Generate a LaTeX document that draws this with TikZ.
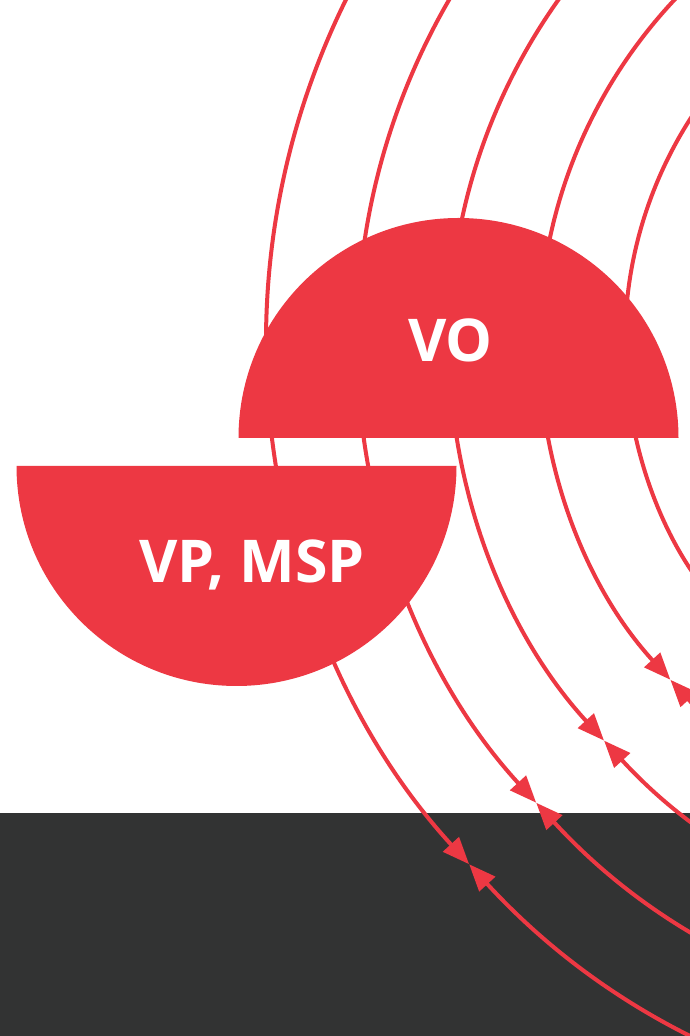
\documentclass[tikz,border=0pt]{standalone}
\usepackage{fontspec}
\setmainfont{Open Sans}
\usetikzlibrary{arrows.meta,calc}
\definecolor{vred}{RGB}{237,56,67}
\definecolor{vdark}{RGB}{50,51,51}
\tikzset{
  arcline/.style={draw=vred,line width=4pt},
  arrowend/.style={arcline,-{Triangle[length=27pt,width=21pt]}},
  halfdisc/.style={fill=vred},
  disclabel/.style={text=white,font=\fontsize{59}{60}\selectfont\bfseries,anchor=base,inner sep=0pt}
}
\begin{document}
\begin{tikzpicture}[x=1pt,y=1pt]
\useasboundingbox (0,0) rectangle (690,1036);
\clip (0,0) rectangle (690,1036);
\fill[white] (0,0) rectangle (690,1036);
\fill[vdark] (0,0) rectangle (690,223);
\coordinate (C) at (1039,694);
\def\meet{222.5}
\foreach \r/\n in {773/1,682/2,590/3,500/4,414/5}{
  \coordinate (top\n) at ($(C)+(120:\r)$);
  \coordinate (bot\n) at ($(C)+(300:\r)$);
  \coordinate (meet\n) at ($(C)+(\meet:\r)$);
  \draw[arrowend] (top\n) arc[start angle=120,end angle=\meet,radius=\r];
  \draw[arrowend] (bot\n) arc[start angle=300,end angle=\meet,radius=\r];
}
\fill[halfdisc] (238.5,598) arc[start angle=180,end angle=0,radius=220] -- cycle;
\fill[halfdisc] (16.5,570) arc[start angle=180,end angle=360,radius=220] -- cycle;
\node[disclabel] (vo) at (450.5,674) {VO};
\node[disclabel] (vp) at (252,453) {VP, MSP};
\end{tikzpicture}
\end{document}
